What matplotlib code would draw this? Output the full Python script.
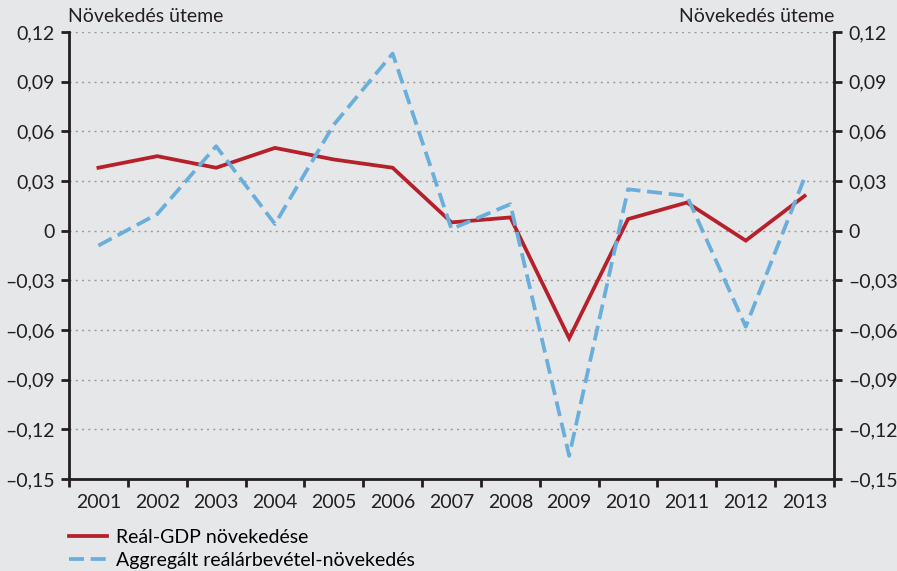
import matplotlib
matplotlib.use("Agg")
import matplotlib.pyplot as plt
from matplotlib.ticker import FixedLocator, NullFormatter

years = ["2001", "2002", "2003", "2004", "2005", "2006", "2007",
         "2008", "2009", "2010", "2011", "2012", "2013"]
gdp = [0.038, 0.045, 0.038, 0.050, 0.043, 0.038, 0.005,
       0.008, -0.065, 0.007, 0.017, -0.006, 0.021]
revenue = [-0.009, 0.010, 0.051, 0.004, 0.064, 0.107, 0.001,
           0.016, -0.136, 0.025, 0.021, -0.058, 0.032]
yticks = [0.12, 0.09, 0.06, 0.03, 0, -0.03, -0.06, -0.09, -0.12, -0.15]
ylabels = ["0,12", "0,09", "0,06", "0,03", "0", "\u20130,03", "\u20130,06",
           "\u20130,09", "\u20130,12", "\u20130,15"]
gdp_label = "Reál-GDP növekedése"
rev_label = "Aggregált reálárbevétel-növekedés"
axis_title = "Növekedés üteme"

bg = "#e6e7e8"
red = "#b5202a"
blue = "#6aaedc"
fs = 14
plt.rcParams["font.family"] = ["Lato", "DejaVu Sans"]

fig = plt.figure(figsize=(8.97, 5.71), dpi=100, facecolor=bg)
ax = fig.add_axes([69/897, 1-479/571, (834-69)/897, (479-32)/571], facecolor=bg)

x = list(range(len(years)))
l1, = ax.plot(x, gdp, color=red, lw=2.7, solid_joinstyle="miter", label=gdp_label)
l2, = ax.plot(x, revenue, color=blue, lw=2.7, dashes=(4, 1.8), label=rev_label)

ax.set_xlim(-0.5, len(years) - 0.5)
ax.set_ylim(-0.15, 0.12)
ax.set_yticks(yticks)
ax.set_yticklabels(ylabels)
ax.xaxis.set_major_locator(FixedLocator([i - 0.5 for i in range(len(years) + 1)]))
ax.xaxis.set_major_formatter(NullFormatter())
ax.set_xticks(x, minor=True)
ax.set_xticklabels(years, minor=True)
ax.tick_params(axis="x", which="major", length=6, width=2, direction="out", color="#231f20")
ax.tick_params(axis="x", which="minor", length=0, pad=11, labelsize=fs, labelcolor="#231f20")
ax.tick_params(axis="y", length=6, width=2, direction="out", labelsize=fs,
               labelcolor="#231f20", color="#231f20", left=True, right=True,
               labelleft=True, labelright=True, pad=4)

ax.grid(axis="y", color="#9a9a9a", linestyle=(0, (1.5, 3)), lw=1)
ax.set_axisbelow(True)
for s in ["left", "right", "bottom"]:
    ax.spines[s].set_color("#231f20")
    ax.spines[s].set_linewidth(2)
ax.spines["top"].set_visible(False)

fig.text(68/897, 1-16/571, axis_title, fontsize=fs, color="#231f20", va="center", ha="left")
fig.text(834/897, 1-16/571, axis_title, fontsize=fs, color="#231f20", va="center", ha="right")

fig.legend(handles=[l1, l2], loc="upper left", bbox_to_anchor=(69/897, 1-529/571),
           frameon=False, fontsize=fs, handlelength=1.95, handletextpad=0.45,
           labelspacing=0.32, borderaxespad=0, borderpad=0)

fig.savefig("out.png", dpi=100, facecolor=bg)
